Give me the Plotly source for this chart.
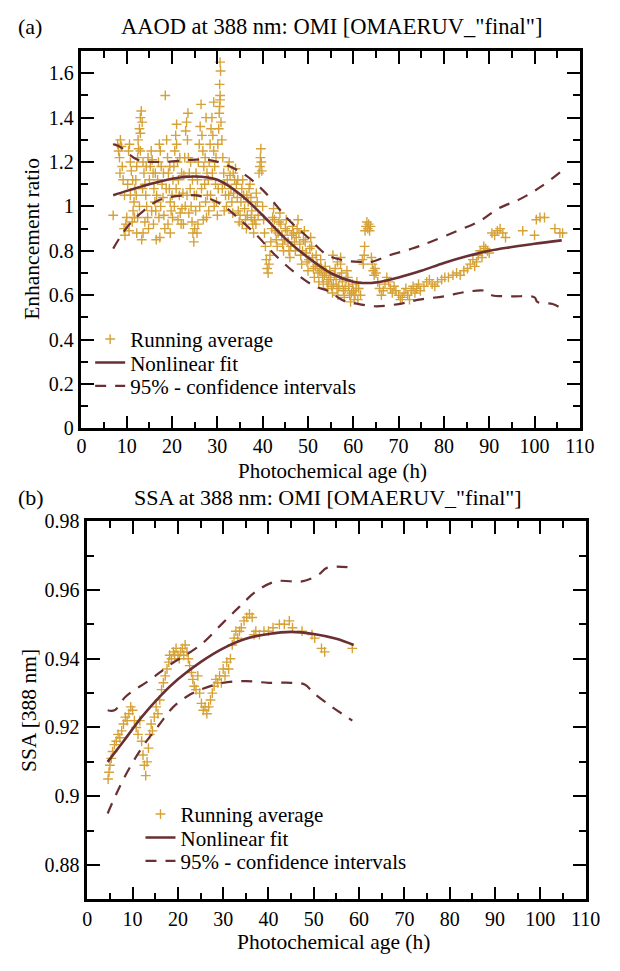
import plotly.graph_objects as go

# ---------------- Panel (a): AAOD enhancement ratio ----------------
a_avg_x = [7.0, 8.0, 8.2, 8.4, 8.6, 8.8, 9.0, 9.2, 8.5, 9.4, 9.6, 9.8, 10.0, 9.5, 10.2, 10.4, 10.6, 10.8, 11.0, 10.5,
           11.2, 11.4, 11.6, 11.8, 12.0, 12.2, 12.4, 12.5, 12.8, 13.0, 13.2, 13.4, 13.0, 12.6, 13.6, 13.8, 14.0, 14.2,
           14.4, 14.6, 14.8, 13.3, 13.6, 14.0, 12.8, 12.4, 15.0, 15.2, 15.4, 15.6, 15.8, 16.0, 16.2, 16.4, 16.6, 16.8,
           17.0, 17.2, 17.4, 17.6, 17.8, 18.0, 18.2, 18.4, 16.5, 18.5, 18.8, 19.0, 19.2, 19.4, 19.6, 19.8, 20.0, 20.2,
           20.4, 20.6, 20.8, 21.0, 21.2, 21.4, 21.6, 21.8, 22.0, 22.2, 22.4, 22.6, 22.8, 23.0, 23.2, 23.4, 23.6, 23.8,
           24.0, 24.2, 24.4, 24.6, 24.8, 25.0, 25.2, 25.4, 25.6, 25.8, 26.0, 26.2, 26.4, 26.6, 26.8, 27.0, 27.2, 27.4,
           27.6, 27.8, 28.0, 28.2, 28.4, 28.6, 28.8, 29.0, 29.2, 29.4, 29.6, 29.8, 30.0, 30.2, 29.2, 30.4, 30.5, 30.6,
           30.6, 30.5, 30.7, 30.6, 30.8, 31.0, 31.2, 31.4, 31.6, 31.8, 32.0, 32.2, 32.4, 32.6, 32.8, 33.0, 33.2, 33.4,
           33.6, 33.8, 34.0, 34.2, 34.4, 34.6, 34.8, 35.0, 35.2, 35.4, 35.6, 35.8, 36.0, 36.2, 36.4, 36.6, 36.8, 37.0,
           37.2, 37.4, 37.6, 37.8, 38.0, 38.2, 38.4, 38.6, 38.8, 39.0, 39.2, 39.4, 39.5, 39.6, 39.7, 39.8, 40.0, 40.2,
           40.4, 40.6, 40.8, 41.0, 41.2, 41.4, 41.6, 41.8, 42.0, 42.2, 42.4, 42.6, 42.8, 43.0, 43.2, 43.4, 43.6, 43.8,
           44.0, 44.2, 44.4, 44.6, 44.8, 45.0, 45.2, 45.4, 45.6, 45.8, 46.0, 46.2, 46.4, 46.6, 46.8, 47.0, 47.2, 47.4,
           47.6, 47.8, 48.0, 48.2, 48.4, 48.6, 48.8, 49.0, 49.2, 49.4, 49.6, 49.8, 50.0, 50.2, 50.4, 50.6, 50.8, 51.0,
           51.2, 51.4, 51.6, 51.8, 52.0, 52.2, 52.4, 52.6, 52.8, 53.0, 53.2, 53.4, 53.6, 53.8, 54.0, 54.2, 54.4, 54.6,
           54.8, 55.0, 55.2, 55.4, 55.6, 55.8, 56.0, 56.2, 56.4, 56.6, 56.8, 57.0, 57.2, 57.4, 57.6, 57.8, 58.0, 58.2,
           58.4, 58.6, 58.8, 59.0, 59.2, 59.4, 59.6, 59.8, 60.0, 60.2, 60.4, 60.6, 55.5, 56.5, 57.2, 60.8, 61.2, 61.6,
           61.0, 62.0, 62.2, 62.4, 62.5, 62.6, 62.8, 63.0, 63.2, 63.4, 63.6, 63.8, 64.0, 64.2, 64.4, 64.6, 64.8, 65.0,
           65.4, 65.8, 66.2, 66.6, 67.0, 67.4, 67.8, 68.2, 68.6, 69.0, 69.4, 70.0, 70.4, 70.8, 71.2, 71.6, 72.0, 72.4,
           72.8, 73.2, 73.6, 74.0, 74.4, 74.8, 75.6, 76.2, 76.8, 77.4, 78.0, 78.6, 79.5, 80.2, 81.0, 82.0, 82.8, 83.6,
           84.4, 85.2, 85.8, 86.4, 86.8, 87.2, 87.6, 88.0, 88.4, 88.8, 89.2, 89.6, 90.0, 90.6, 91.2, 91.8, 92.4, 93.0,
           93.6, 97.4, 100.0, 100.4, 101.2, 102.2, 104.5, 105.6, 106.2,
           10.8, 11.3, 11.7, 12.1, 13.5, 14.3, 14.7, 15.5, 15.9, 16.3, 17.1, 17.5, 18.1, 18.7, 19.1, 19.5, 20.1, 20.5,
           20.9, 21.3, 21.7, 22.1, 22.5, 22.9, 23.3, 23.7, 24.1, 24.5, 24.9, 25.3, 25.7, 26.1, 26.5, 26.9, 27.3, 27.7,
           28.1, 28.5, 28.9, 29.3, 29.7, 30.1, 30.3, 31.1, 31.5, 32.5, 33.5, 34.5, 35.5, 36.5, 37.5, 38.5, 23.5, 21.0,
           27.5, 25.5, 19.6, 17.3, 13.0, 12.2]
a_avg_y = [0.96, 1.28, 1.25, 1.22, 1.30, 1.27, 1.18, 1.12, 1.15, 0.90, 0.87, 0.92, 0.95, 1.05, 1.10, 1.25, 1.28, 1.20, 1.16, 0.89,
           0.93, 0.98, 1.02, 1.08, 1.12, 1.18, 1.22, 1.30, 1.35, 1.40, 1.43, 1.38, 1.33, 1.26, 1.20, 1.15, 1.10, 1.05,
           1.00, 0.95, 0.90, 0.85, 0.88, 0.93, 1.00, 0.95, 1.12, 1.18, 1.25, 1.21, 1.15, 1.08, 1.02, 0.98, 1.05, 1.12,
           1.20, 1.28, 1.25, 1.18, 1.10, 1.04, 0.96, 0.90, 0.85, 1.50, 1.30, 1.22, 1.15, 1.08, 1.02, 0.98, 1.05, 1.12,
           1.18, 1.25, 1.32, 1.28, 1.20, 1.12, 1.05, 0.97, 0.92, 0.99, 1.06, 1.14, 1.22, 1.34, 1.38, 1.30, 1.22, 1.15,
           1.08, 1.00, 0.93, 0.88, 0.84, 0.90, 0.98, 1.05, 1.12, 1.20, 1.28, 1.36, 1.46, 1.32, 1.25, 1.18, 1.10, 1.02,
           0.95, 1.05, 1.12, 1.20, 1.28, 1.35, 1.40, 1.32, 1.25, 1.18, 1.10, 1.02, 0.96, 1.08, 1.47, 1.42, 1.45, 1.48,
           1.50, 1.55, 1.61, 1.65, 1.38, 1.30, 1.22, 1.15, 1.10, 1.05, 1.00, 1.12, 1.18, 1.20, 1.14, 1.08, 1.02, 0.97,
           1.06, 1.12, 1.17, 1.10, 1.04, 0.98, 0.93, 0.96, 1.02, 1.08, 1.12, 1.05, 0.99, 0.94, 0.90, 0.96, 1.02, 1.08,
           1.10, 1.04, 0.98, 0.92, 0.88, 0.94, 1.00, 1.06, 1.02, 0.96, 1.15, 1.18, 1.22, 1.26, 1.20, 1.16, 1.00, 0.94,
           0.88, 0.82, 0.76, 0.72, 0.70, 0.74, 0.78, 0.84, 0.90, 0.95, 0.99, 0.94, 0.89, 0.85, 0.82, 0.88, 0.93, 0.97,
           0.92, 0.87, 0.83, 0.80, 0.85, 0.90, 0.94, 0.89, 0.84, 0.80, 0.77, 0.82, 0.87, 0.91, 0.88, 0.84, 0.80, 0.86,
           0.90, 0.94, 0.88, 0.83, 0.78, 0.74, 0.80, 0.85, 0.89, 0.84, 0.79, 0.75, 0.71, 0.76, 0.81, 0.86, 0.82, 0.77,
           0.72, 0.68, 0.73, 0.78, 0.74, 0.70, 0.66, 0.71, 0.76, 0.72, 0.68, 0.65, 0.69, 0.73, 0.70, 0.66, 0.63, 0.67,
           0.71, 0.68, 0.64, 0.61, 0.65, 0.69, 0.72, 0.67, 0.63, 0.60, 0.64, 0.68, 0.74, 0.70, 0.66, 0.62, 0.59, 0.63,
           0.67, 0.71, 0.68, 0.64, 0.60, 0.57, 0.61, 0.65, 0.62, 0.58, 0.60, 0.63, 0.78, 0.75, 0.77, 0.66, 0.63, 0.60,
           0.58, 0.76, 0.74, 0.78, 0.82, 0.89, 0.91, 0.93, 0.90, 0.92, 0.89, 0.91, 0.77, 0.74, 0.71, 0.69, 0.72, 0.70,
           0.66, 0.63, 0.60, 0.62, 0.65, 0.68, 0.66, 0.63, 0.61, 0.64, 0.62, 0.60, 0.58, 0.59, 0.61, 0.63, 0.60, 0.58,
           0.62, 0.64, 0.61, 0.63, 0.65, 0.62, 0.64, 0.66, 0.67, 0.65, 0.64, 0.66, 0.67, 0.68, 0.68, 0.69, 0.70, 0.69,
           0.71, 0.72, 0.74, 0.76, 0.73, 0.75, 0.78, 0.80, 0.77, 0.82, 0.81, 0.80, 0.79, 0.88, 0.87, 0.89, 0.90, 0.88,
           0.86, 0.89, 0.87, 0.94, 0.95, 0.95, 0.90, 0.88, 0.88,
           1.05, 1.12, 0.95, 1.05, 1.08, 1.18, 1.22, 0.98, 0.92, 1.15, 0.95, 1.00, 1.15, 1.08, 0.92, 1.18, 0.95, 1.00,
           1.08, 0.94, 1.22, 1.15, 0.92, 1.00, 1.05, 0.97, 1.20, 1.12, 1.05, 1.15, 0.92, 1.00, 1.08, 0.94, 1.22, 1.15,
           0.98, 1.05, 1.15, 1.00, 1.22, 1.28, 1.35, 1.08, 0.98, 1.05, 1.15, 1.12, 0.92, 1.05, 0.95, 0.92, 1.42, 1.37,
           1.40, 0.88, 0.88, 0.86, 1.25, 0.88]

a_fit_x = [7, 10, 15, 20, 25, 30, 35, 40, 45, 50, 55, 60, 62, 65, 70, 75, 80, 85, 90, 95, 100, 106]
a_fit_y = [1.05, 1.07, 1.10, 1.125, 1.135, 1.12, 1.055, 0.96, 0.855, 0.77, 0.70, 0.66, 0.655, 0.657, 0.68, 0.71,
           0.745, 0.775, 0.80, 0.817, 0.832, 0.847]

a_up_x = [7, 8.4, 12.4, 17.3, 24.4, 28, 31.6, 35.9, 40.2, 45.7, 50, 54.3, 58.5, 62, 64, 68, 73, 77, 83, 88, 92,
          97, 101.5, 106]
a_up_y = [1.28, 1.27, 1.21, 1.20, 1.21, 1.21, 1.19, 1.145, 1.07, 0.94, 0.86, 0.78, 0.755, 0.75, 0.75, 0.78, 0.81,
          0.84, 0.89, 0.935, 0.99, 1.035, 1.09, 1.16]

a_lo_x = [7, 10.2, 13.7, 17.3, 23, 26.5, 30.8, 35, 38.7, 42.3, 47.2, 51.5, 54.3, 57.9, 60, 64.7, 70, 74.5, 80,
          85, 89, 90.6, 95, 100, 100.6, 104, 106]
a_lo_y = [0.81, 0.91, 0.98, 1.03, 1.05, 1.045, 1.01, 0.94, 0.87, 0.79, 0.70, 0.64, 0.62, 0.575, 0.565, 0.55, 0.56,
          0.58, 0.595, 0.615, 0.62, 0.60, 0.595, 0.59, 0.57, 0.56, 0.54]

# ---------------- Panel (b): SSA ----------------
b_avg_x = [4.6, 4.8, 5.0, 5.3, 5.6, 6.0, 6.4, 6.8, 7.2, 7.6, 8.0, 8.4, 8.8, 9.2, 9.6, 10.0, 10.4, 10.8, 11.2, 11.6,
           12.0, 12.3, 12.6, 12.9, 13.2, 13.5, 13.8, 14.1, 14.4, 14.8, 15.2, 15.6, 16.0, 16.4, 16.8, 17.2, 17.6, 18.0,
           18.2, 18.6, 19.0, 19.3, 19.6, 20.0, 20.3, 20.6, 21.0, 21.3, 21.6, 22.0, 22.3, 22.6, 23.0, 23.3, 23.6, 24.0,
           24.4, 24.8, 25.2, 25.6, 26.0, 26.4, 26.8, 27.2, 27.6, 28.0, 28.4, 28.8, 29.2, 29.6, 30.0, 30.4, 30.8, 31.2,
           31.6, 32.0, 32.4, 32.8, 33.2, 33.6, 34.0, 34.6, 35.2, 35.8, 36.4, 36.8, 37.2, 38.0, 39.0, 40.0, 41.0, 42.4,
           43.5, 44.6, 45.3, 47.4, 49.6, 50.2, 51.7, 52.4, 58.5]
b_avg_y = [0.905, 0.907, 0.909, 0.911, 0.913, 0.915, 0.916, 0.918, 0.917, 0.919, 0.921, 0.923, 0.922, 0.924, 0.926,
           0.925, 0.922, 0.920, 0.918, 0.922, 0.916, 0.912, 0.909, 0.906, 0.910, 0.914, 0.918, 0.921, 0.919, 0.923,
           0.926, 0.924, 0.928, 0.931, 0.933, 0.935, 0.937, 0.939, 0.941, 0.940, 0.942, 0.941, 0.943, 0.941, 0.940,
           0.942, 0.943, 0.941, 0.944, 0.942, 0.940, 0.938, 0.936, 0.934, 0.932, 0.931, 0.935, 0.930, 0.927, 0.925,
           0.926, 0.924, 0.926, 0.928, 0.930, 0.932, 0.934, 0.933, 0.935, 0.933, 0.937, 0.935, 0.939, 0.937, 0.940,
           0.944, 0.946, 0.948, 0.946, 0.948, 0.949, 0.951, 0.952, 0.953, 0.952, 0.947, 0.948, 0.947, 0.948, 0.948,
           0.949, 0.950, 0.950, 0.951, 0.949, 0.948, 0.947, 0.946, 0.943, 0.942, 0.943]

b_fit_x = [4.5, 8, 12, 16, 20, 25, 30, 35, 40, 45, 50, 55, 58.8]
b_fit_y = [0.910, 0.916, 0.923, 0.929, 0.934, 0.939, 0.943, 0.9458, 0.9472, 0.9478, 0.9472, 0.9458, 0.944]

b_up_x = [4.5, 6, 8.5, 14, 18, 25, 30, 33.5, 37.4, 41.7, 47.4, 50.9, 53, 58.5]
b_up_y = [0.925, 0.925, 0.929, 0.934, 0.938, 0.944, 0.9505, 0.955, 0.9597, 0.9625, 0.9625, 0.9643, 0.9665, 0.9665]

b_lo_x = [4.5, 8, 12, 16, 19, 22, 25, 30, 35, 40, 45, 48, 50, 54, 58.5]
b_lo_y = [0.895, 0.905, 0.914, 0.921, 0.926, 0.929, 0.931, 0.933, 0.9335, 0.933, 0.933, 0.9325, 0.930, 0.926, 0.922]

x_ticks = list(range(0, 111, 10))
a_y_ticks = [0, 0.2, 0.4, 0.6, 0.8, 1.0, 1.2, 1.4, 1.6]
b_y_ticks = [0.88, 0.90, 0.92, 0.94, 0.96, 0.98]

# ---------------- Styling ----------------
W, H = 620, 971
GOLD = "#d6a136"
MAROON = "#6a2f33"
FONT = "Liberation Serif"


def px_x(p):
    return p / W


def px_y(p):
    return 1 - p / H


fig = go.Figure()


def add_panel(xs, ys, fx, fy, ux, uy, lx, ly, xa, ya, legs):
    fig.add_trace(go.Scatter(x=xs, y=ys, mode="markers", name="Running average",
                             marker=dict(symbol="cross-thin", size=7, line=dict(color=GOLD, width=1.4), color=GOLD),
                             xaxis=xa, yaxis=ya, legend=legs[0]))
    fig.add_trace(go.Scatter(x=fx, y=fy, mode="lines", name="Nonlinear fit", line_shape="spline",
                             line=dict(color=MAROON, width=2.6), xaxis=xa, yaxis=ya, legend=legs[1]))
    fig.add_trace(go.Scatter(x=ux, y=uy, mode="lines", name="95% - confidence intervals", line_shape="spline",
                             line=dict(color=MAROON, width=2.2, dash="11px,9px"), xaxis=xa, yaxis=ya,
                             legend=legs[2], legendgroup=legs[2]))
    fig.add_trace(go.Scatter(x=lx, y=ly, mode="lines", name="95% - confidence intervals", line_shape="spline",
                             line=dict(color=MAROON, width=2.2, dash="11px,9px"), xaxis=xa, yaxis=ya,
                             legend=legs[2], legendgroup=legs[2], showlegend=False))


add_panel(a_avg_x, a_avg_y, a_fit_x, a_fit_y, a_up_x, a_up_y, a_lo_x, a_lo_y, "x", "y",
          ["legend", "legend2", "legend3"])
add_panel(b_avg_x, b_avg_y, b_fit_x, b_fit_y, b_up_x, b_up_y, b_lo_x, b_lo_y, "x2", "y2",
          ["legend4", "legend5", "legend6"])

axis_common = dict(showline=True, linecolor="black", linewidth=2.5, mirror="ticks", ticks="inside",
                   ticklen=13, tickwidth=2, tickcolor="black", showgrid=False, zeroline=False,
                   tickfont=dict(family=FONT, size=20, color="black"),
                   minor=dict(ticks="inside", ticklen=7, tickwidth=2, tickcolor="black", showgrid=False))


def leg(xp, yp):
    return dict(x=px_x(xp), y=px_y(yp), xanchor="left", yanchor="middle", bgcolor="rgba(0,0,0,0)",
                font=dict(family=FONT, size=21, color="black"), itemwidth=30, tracegroupgap=0)


fig.update_layout(
    width=W, height=H, margin=dict(l=0, r=0, t=0, b=0),
    paper_bgcolor="white", plot_bgcolor="white",
    font=dict(family=FONT, size=20, color="black"),
    xaxis=dict(domain=[px_x(79), px_x(594)], range=[0, 110], tickvals=x_ticks, anchor="y",
               minor_dtick=5, ticklabelstandoff=-2, **axis_common),
    yaxis=dict(domain=[px_y(427), px_y(41)], range=[0, 1.7], tickvals=a_y_ticks, anchor="x",
               minor_dtick=0.1, ticklabelstandoff=1, **axis_common),
    xaxis2=dict(domain=[px_x(85), px_x(600)], range=[0, 110], tickvals=x_ticks, anchor="y2",
                minor_dtick=5, ticklabelstandoff=0, **axis_common),
    yaxis2=dict(domain=[px_y(909), px_y(522)], range=[0.87, 0.98], tickvals=b_y_ticks, anchor="x2",
                minor_dtick=0.01, ticklabelstandoff=1, **axis_common),
    legend=leg(88, 336), legend2=leg(88, 360), legend3=leg(88, 384),
    legend4=leg(140, 822), legend5=leg(140, 846), legend6=leg(140, 870),
    showlegend=True,
)

ann = [
    dict(text="(a)", x=px_x(11), y=px_y(16), size=22),
    dict(text="AAOD at 388 nm: OMI [OMAERUV_\"final\"]", x=px_x(337), y=px_y(16), size=22.5),
    dict(text="Photochemical age (h)", x=px_x(338), y=px_y(471), size=21),
    dict(text="Enhancement ratio", x=px_x(28), y=px_y(233), size=21.5, textangle=-90),
    dict(text="(b)", x=px_x(11), y=px_y(498), size=22),
    dict(text="SSA at 388 nm: OMI [OMAERUV_\"final\"]", x=px_x(334), y=px_y(498), size=22),
    dict(text="Photochemical age (h)", x=px_x(339), y=px_y(953), size=21.5),
    dict(text="SSA [388 nm]", x=px_x(25), y=px_y(716), size=21.5, textangle=-90),
]
for a in ann:
    size = a.pop("size")
    xa = "center" if a["text"] not in ("(a)", "(b)") else "left"
    fig.add_annotation(xref="paper", yref="paper", showarrow=False, xanchor=xa, yanchor="middle",
                       font=dict(family=FONT, size=size, color="black"), **a)

fig.write_html("out.html")
